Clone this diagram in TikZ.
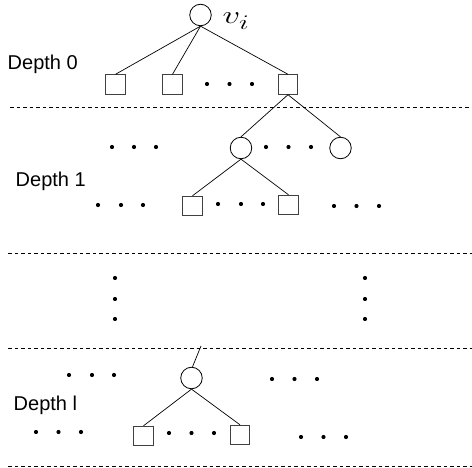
\documentclass[tikz,border=0pt]{standalone}
\usepackage{fontspec}
\setsansfont{Liberation Sans}
\usepackage{graphicx}
\begin{document}
\begin{tikzpicture}[x=1pt,y=-1pt,
  sq/.style={draw=black!75,line width=0.9pt,minimum size=19.5pt,inner sep=0pt},
  cir/.style={draw,line width=0.8pt,circle,minimum size=21.5pt,inner sep=0pt},
  edge/.style={line width=0.7pt},
  sep/.style={line width=0.7pt,dash pattern=on 3.5pt off 3pt},
  lab/.style={font=\sffamily\fontsize{20}{23}\selectfont,inner sep=0pt,anchor=base west},
  dot/.style={fill=black}]
\useasboundingbox (0,0) rectangle (472,468);
% Depth 0
\node[cir] (r) at (200.5,15) {};
\node[inner sep=0pt,anchor=base west] (vi) at (222.5,24) {\scalebox{1.4}[1]{\fontsize{28}{30}\selectfont$v_i$}};
\node[lab] (d0) at (7.5,70) {Depth 0};
\node[sq] (a1) at (115.5,84.5) {};
\node[sq] (a2) at (172.5,84.5) {};
\node[sq] (a3) at (288,84.5) {};
\foreach \x in {207,229.5,252} \fill[dot] (\x,84) circle (2.1);
\draw[edge] (r.south) -- (a1.north);
\draw[edge] (r.south) -- (a2.north);
\draw[edge] (r.south) -- (a3.north);
\draw[sep] (10,107.5) -- (472,107.5);
% Depth 1
\node[cir] (b1) at (241,148) {};
\node[cir] (b2) at (340.5,148) {};
\draw[edge] (a3.south) -- (b1.north);
\draw[edge] (a3.south) -- (b2.north);
\foreach \x in {112,134,156} \fill[dot] (\x,147) circle (2.1);
\foreach \x in {266,288.5,311} \fill[dot] (\x,147) circle (2.1);
\node[lab] (d1) at (15.5,187) {Depth 1};
\node[sq] (c1) at (192.5,206) {};
\node[sq] (c2) at (288.5,205) {};
\draw[edge] (b1.south) -- (c1.north);
\draw[edge] (b1.south) -- (c2.north);
\foreach \x in {98,121,143} \fill[dot] (\x,205) circle (2.1);
\foreach \x in {218,241,263} \fill[dot] (\x,204) circle (2.1);
\foreach \x in {334,356.5,379} \fill[dot] (\x,206) circle (2.1);
\draw[sep] (8,253) -- (472,253);
% vertical dots
\foreach \y in {278,299,319} {\fill[dot] (115,\y) circle (2.1); \fill[dot] (365,\y) circle (2.1);}
\draw[sep] (8,348) -- (472,348);
% Depth l
\node[cir] (e) at (191.5,378) {};
\coordinate (up) at (201,346);
\draw[edge] (e.north) ++(1,0) -- (up);
\foreach \x in {69,92,114} \fill[dot] (\x,375) circle (2.1);
\foreach \x in {272,294.5,317} \fill[dot] (\x,379) circle (2.1);
\node[lab] (dl) at (13.5,410) {Depth l};
\node[sq] (f1) at (143.5,436) {};
\node[sq] (f2) at (240,435) {};
\draw[edge] (e.south) -- (f1.north);
\draw[edge] (e.south) -- (f2.north);
\foreach \x in {36,58.5,81} \fill[dot] (\x,432) circle (2.1);
\foreach \x in {169,191.5,214} \fill[dot] (\x,433) circle (2.1);
\foreach \x in {301,323.5,346} \fill[dot] (\x,437) circle (2.1);
\draw[sep] (8,466) -- (472,466);
\end{tikzpicture}
\end{document}
